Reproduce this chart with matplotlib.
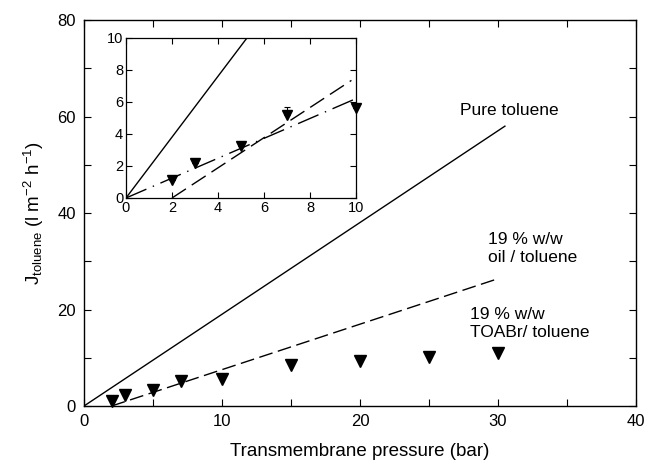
import matplotlib
matplotlib.use("Agg")
import matplotlib.pyplot as plt
import numpy as np

plt.rcParams['font.family'] = ['Liberation Sans', 'DejaVu Sans']
plt.rcParams['mathtext.default'] = 'regular'

# Data
pressure = [2, 3, 5, 7, 10, 15, 20, 25, 30]
flux_toabr = [1.1, 2.2, 3.25, 5.2, 5.6, 8.4, 9.3, 10.2, 11.0]
inset_pressure = [2, 3, 5, 7, 10]
inset_flux = [1.1, 2.2, 3.25, 5.2, 5.6]
inset_err_up = [0, 0, 0, 0.5, 0]

pure_x = [0, 30.5]
pure_y = [0, 58.0]
oil_x = [2, 29.8]
oil_y = [0, 26.2]
inset_oil_x = [2, 9.8]
inset_oil_y = [0, 7.35]
fit_x = [0, 9.9]
fit_y = [0, 6.15]

fig = plt.figure(figsize=(6.48, 4.73), dpi=100)
ax = fig.add_axes([0.1296, 0.1416, 0.8519, 0.8161])

ax.plot(pure_x, pure_y, color='black', lw=1.0)
ax.plot(oil_x, oil_y, color='black', lw=1.0, ls=(0, (10, 4)))
ax.plot(pressure, flux_toabr, 'v', color='black', ms=9, ls='none', clip_on=False, zorder=5)

ax.set_xlim(0, 40)
ax.set_ylim(0, 80)
ax.set_xticks([0, 10, 20, 30, 40])
ax.set_xticks([5, 15, 25, 35], minor=True)
ax.set_yticks([0, 20, 40, 60, 80])
ax.set_yticks([10, 30, 50, 70], minor=True)
ax.tick_params(which='both', direction='in', top=True, right=True, length=5, width=0.8,
               labelsize=12, pad=6)
for s in ax.spines.values():
    s.set_linewidth(1.0)
ax.set_xlabel('Transmembrane pressure (bar)', fontsize=13.5, labelpad=10)
ax.set_ylabel('J$_{toluene}$ (l m$^{-2}$ h$^{-1}$)', fontsize=13.5, labelpad=8)

ax.text(30.8, 61.2, 'Pure toluene', fontsize=12.5, ha='center', va='center')
ax.text(29.3, 32.6, '19 % w/w\noil / toluene', fontsize=12.5, ha='left', va='center',
        linespacing=1.25)
ax.text(28.0, 17.2, '19 % w/w\nTOABr/ toluene', fontsize=12.5, ha='left', va='center',
        linespacing=1.25)

# Inset
ins = fig.add_axes([0.1944, 0.5814, 0.3550, 0.3383])
ins.plot(pure_x, pure_y, color='black', lw=1.0)
ins.plot(inset_oil_x, inset_oil_y, color='black', lw=1.0, ls=(0, (12, 5)))
ins.plot(fit_x, fit_y, color='black', lw=1.0, ls=(0, (16, 5, 1, 5)))
eb = ins.errorbar(inset_pressure, inset_flux,
                  yerr=[np.zeros(len(inset_err_up)), inset_err_up],
                  fmt='v', color='black', ms=6.5, capsize=2.5, elinewidth=0.8, capthick=0.8)
for art in eb.lines[0:1]:
    art.set_clip_on(False)
ins.set_xlim(0, 10)
ins.set_ylim(0, 10)
ins.set_xticks([0, 2, 4, 6, 8, 10])
ins.set_yticks([0, 2, 4, 6, 8, 10])
ins.tick_params(direction='in', top=True, right=True, length=4, width=0.8,
                labelsize=10.5, pad=2)
for s in ins.spines.values():
    s.set_linewidth(0.9)

fig.savefig('out.png', dpi=100)
